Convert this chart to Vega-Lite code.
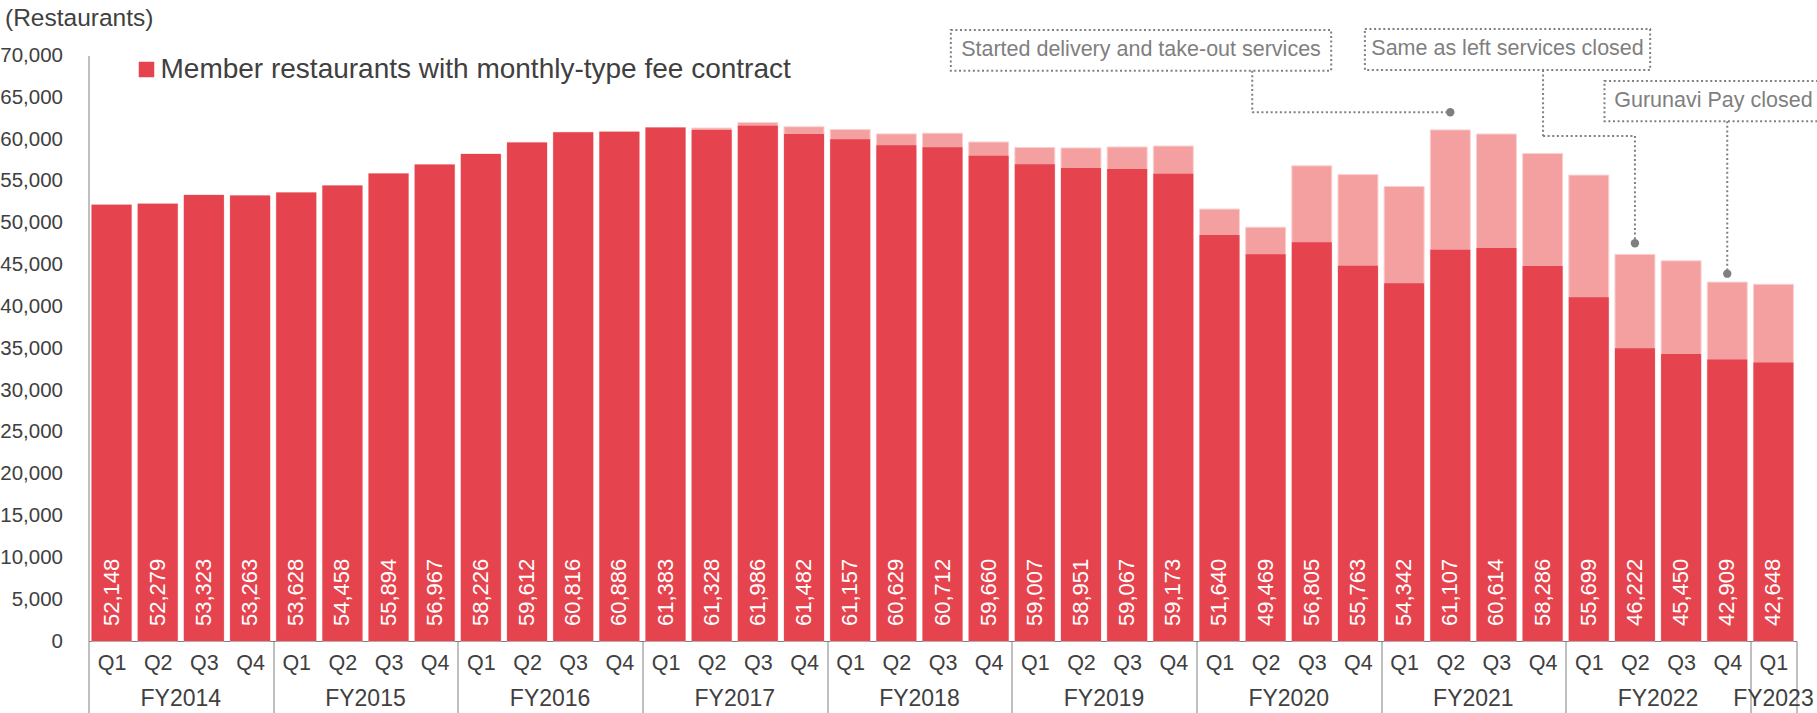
{
  "$schema": "https://vega.github.io/schema/vega-lite/v6.json",
  "width": 1708,
  "height": 585.5,
  "autosize": {"type": "none"},
  "padding": {"left": 88.5, "top": 55.5, "right": 20.5, "bottom": 72},
  "background": "white",
  "config": {"view": {"stroke": null}, "font": "Liberation Sans"},
  "datasets": {
    "main": [
      {"key": "FY2014 Q1", "total": 52148, "member": 52148},
      {"key": "FY2014 Q2", "total": 52279, "member": 52279},
      {"key": "FY2014 Q3", "total": 53323, "member": 53323},
      {"key": "FY2014 Q4", "total": 53263, "member": 53263},
      {"key": "FY2015 Q1", "total": 53628, "member": 53628},
      {"key": "FY2015 Q2", "total": 54458, "member": 54458},
      {"key": "FY2015 Q3", "total": 55894, "member": 55894},
      {"key": "FY2015 Q4", "total": 56967, "member": 56967},
      {"key": "FY2016 Q1", "total": 58226, "member": 58226},
      {"key": "FY2016 Q2", "total": 59612, "member": 59612},
      {"key": "FY2016 Q3", "total": 60816, "member": 60816},
      {"key": "FY2016 Q4", "total": 60886, "member": 60886},
      {"key": "FY2017 Q1", "total": 61383, "member": 61383},
      {"key": "FY2017 Q2", "total": 61328, "member": 61090},
      {"key": "FY2017 Q3", "total": 61986, "member": 61590},
      {"key": "FY2017 Q4", "total": 61482, "member": 60600},
      {"key": "FY2018 Q1", "total": 61157, "member": 60000},
      {"key": "FY2018 Q2", "total": 60629, "member": 59270},
      {"key": "FY2018 Q3", "total": 60712, "member": 59030},
      {"key": "FY2018 Q4", "total": 59660, "member": 58000},
      {"key": "FY2019 Q1", "total": 59007, "member": 57000},
      {"key": "FY2019 Q2", "total": 58951, "member": 56550},
      {"key": "FY2019 Q3", "total": 59067, "member": 56440},
      {"key": "FY2019 Q4", "total": 59173, "member": 55860},
      {"key": "FY2020 Q1", "total": 51640, "member": 48530},
      {"key": "FY2020 Q2", "total": 49469, "member": 46240},
      {"key": "FY2020 Q3", "total": 56805, "member": 47670},
      {"key": "FY2020 Q4", "total": 55763, "member": 44860},
      {"key": "FY2021 Q1", "total": 54342, "member": 42760},
      {"key": "FY2021 Q2", "total": 61107, "member": 46780},
      {"key": "FY2021 Q3", "total": 60614, "member": 47000},
      {"key": "FY2021 Q4", "total": 58286, "member": 44840},
      {"key": "FY2022 Q1", "total": 55699, "member": 41090},
      {"key": "FY2022 Q2", "total": 46222, "member": 35000},
      {"key": "FY2022 Q3", "total": 45450, "member": 34310},
      {"key": "FY2022 Q4", "total": 42909, "member": 33650},
      {"key": "FY2023 Q1", "total": 42648, "member": 33310}
    ],
    "fy": [
      {"fy": "FY2014", "key": "FY2014 Q2"},
      {"fy": "FY2015", "key": "FY2015 Q2"},
      {"fy": "FY2016", "key": "FY2016 Q2"},
      {"fy": "FY2017", "key": "FY2017 Q2"},
      {"fy": "FY2018", "key": "FY2018 Q2"},
      {"fy": "FY2019", "key": "FY2019 Q2"},
      {"fy": "FY2020", "key": "FY2020 Q2"},
      {"fy": "FY2021", "key": "FY2021 Q2"},
      {"fy": "FY2022", "key": "FY2022 Q2"}
    ],
    "fy_last": [
      {"fy": "FY2023", "key": "FY2023 Q1"}
    ],
    "boxes": [
      {"x": 18.68, "x2": 26.92, "y": 73050, "y2": 68190},
      {"x": 27.65, "x2": 33.83, "y": 73170, "y2": 68270},
      {"x": 32.84, "x2": 37.6, "y": 66950, "y2": 62140}
    ],
    "notes": [
      {"text": "Started delivery and take-out services", "x": 22.8, "y": 70620},
      {"text": "Same as left services closed", "x": 30.74, "y": 70720},
      {"text": "Gurunavi Pay closed", "x": 35.2, "y": 64545}
    ],
    "segments": [
      {"x": 25.21, "y": 68190, "x2": 25.21, "y2": 63211},
      {"x": 25.21, "y": 63211, "x2": 29.5, "y2": 63211},
      {"x": 31.51, "y": 68270, "x2": 31.51, "y2": 60378},
      {"x": 31.51, "y": 60378, "x2": 33.5, "y2": 60378},
      {"x": 33.5, "y": 60378, "x2": 33.5, "y2": 47550},
      {"x": 35.5, "y": 62140, "x2": 35.5, "y2": 43914}
    ],
    "dots": [
      {"x": 29.5, "y": 63211},
      {"x": 33.5, "y": 47550},
      {"x": 35.5, "y": 43914}
    ]
  },
  "resolve": {"scale": {"x": "independent"}, "axis": {"x": "independent", "y": "independent"}},
  "layer": [
    {
      "data": {"name": "main"},
      "mark": {"type": "bar", "color": "#F4A0A0", "width": {"band": 0.866}, "stroke": "#FAD0D0", "strokeWidth": 1},
      "encoding": {
        "x": {
          "field": "key", "type": "ordinal",
          "scale": {"type": "band", "paddingInner": 0, "paddingOuter": 0},
          "axis": {
            "title": null,
            "labelExpr": "datum.extra ? '' : slice(datum.value + '', -2)",
            "labelAngle": 0,
            "labelFont": "Liberation Sans",
            "labelFontSize": 21.5,
            "labelColor": "#404040",
            "labelBaseline": "middle",
            "labelPadding": -50,
            "labelOverlap": false,
            "tickBand": "extent",
            "tickSize": 72,
            "tickWidth": 1,
            "tickColor": "#808080",
            "tickOpacity": {"condition": {"test": "datum.extra || slice(datum.value + '', -2) === 'Q4' || datum.value === 'FY2023 Q1'", "value": 1}, "value": 0},
            "domainColor": "#808080",
            "domainWidth": 1
          }
        },
        "y": {
          "field": "total", "type": "quantitative",
          "scale": {"domain": [0, 70000], "nice": false},
          "axis": {
            "orient": "left",
            "title": "(Restaurants)",
            "titleAngle": 0,
            "titleAlign": "left",
            "titleBaseline": "middle",
            "titleX": -84,
            "titleY": -37,
            "titleFont": "Liberation Sans",
            "titleFontSize": 24.5,
            "titleFontWeight": "normal",
            "titleColor": "#404040",
            "values": [0, 5000, 10000, 15000, 20000, 25000, 30000, 35000, 40000, 45000, 50000, 55000, 60000, 65000, 70000],
            "format": ",.0f",
            "labelFont": "Liberation Sans",
            "labelFontSize": 20.5,
            "labelColor": "#404040",
            "labelPadding": 26,
            "ticks": false,
            "grid": false,
            "domainColor": "#808080",
            "domainWidth": 1
          }
        }
      }
    },
    {
      "data": {"name": "main"},
      "mark": {"type": "bar", "width": {"band": 0.866}},
      "encoding": {
        "x": {"field": "key", "type": "ordinal", "scale": {"type": "band", "paddingInner": 0, "paddingOuter": 0}, "axis": null},
        "y": {"field": "member", "type": "quantitative", "axis": null},
        "color": {
          "datum": "Member restaurants with monthly-type fee contract",
          "type": "nominal",
          "scale": {"range": ["#E5444F"]},
          "legend": {
            "orient": "none",
            "legendX": 44,
            "legendY": 0,
            "title": null,
            "padding": 0,
            "symbolType": "square",
            "symbolSize": 240,
            "symbolStrokeWidth": 0,
            "labelFont": "Liberation Sans",
            "labelFontSize": 28,
            "labelColor": "#404040",
            "labelLimit": 1000,
            "labelOffset": 0
          }
        }
      }
    },
    {
      "data": {"name": "main"},
      "mark": {"type": "text", "angle": 270, "align": "left", "baseline": "middle", "dx": 15, "color": "white", "font": "Liberation Sans", "fontSize": 22},
      "encoding": {
        "x": {"field": "key", "type": "ordinal", "scale": {"type": "band", "paddingInner": 0, "paddingOuter": 0}, "axis": null},
        "y": {"datum": 0, "type": "quantitative", "axis": null},
        "text": {"field": "total", "type": "quantitative", "format": ","}
      }
    },
    {
      "data": {"name": "fy"},
      "mark": {"type": "text", "align": "center", "baseline": "middle", "dy": 58, "color": "#404040", "font": "Liberation Sans", "fontSize": 23},
      "encoding": {
        "x": {
          "field": "key", "type": "ordinal", "bandPosition": 1, "axis": null,
          "scale": {"type": "band", "paddingInner": 0, "paddingOuter": 0,
            "domain": ["FY2014 Q1", "FY2014 Q2", "FY2014 Q3", "FY2014 Q4", "FY2015 Q1", "FY2015 Q2", "FY2015 Q3", "FY2015 Q4", "FY2016 Q1", "FY2016 Q2", "FY2016 Q3", "FY2016 Q4", "FY2017 Q1", "FY2017 Q2", "FY2017 Q3", "FY2017 Q4", "FY2018 Q1", "FY2018 Q2", "FY2018 Q3", "FY2018 Q4", "FY2019 Q1", "FY2019 Q2", "FY2019 Q3", "FY2019 Q4", "FY2020 Q1", "FY2020 Q2", "FY2020 Q3", "FY2020 Q4", "FY2021 Q1", "FY2021 Q2", "FY2021 Q3", "FY2021 Q4", "FY2022 Q1", "FY2022 Q2", "FY2022 Q3", "FY2022 Q4", "FY2023 Q1"]}
        },
        "y": {"datum": 0, "type": "quantitative", "axis": null},
        "text": {"field": "fy"}
      }
    },
    {
      "data": {"name": "fy_last"},
      "mark": {"type": "text", "align": "center", "baseline": "middle", "dy": 58, "color": "#404040", "font": "Liberation Sans", "fontSize": 23},
      "encoding": {
        "x": {
          "field": "key", "type": "ordinal", "bandPosition": 0.5, "axis": null,
          "scale": {"type": "band", "paddingInner": 0, "paddingOuter": 0,
            "domain": ["FY2014 Q1", "FY2014 Q2", "FY2014 Q3", "FY2014 Q4", "FY2015 Q1", "FY2015 Q2", "FY2015 Q3", "FY2015 Q4", "FY2016 Q1", "FY2016 Q2", "FY2016 Q3", "FY2016 Q4", "FY2017 Q1", "FY2017 Q2", "FY2017 Q3", "FY2017 Q4", "FY2018 Q1", "FY2018 Q2", "FY2018 Q3", "FY2018 Q4", "FY2019 Q1", "FY2019 Q2", "FY2019 Q3", "FY2019 Q4", "FY2020 Q1", "FY2020 Q2", "FY2020 Q3", "FY2020 Q4", "FY2021 Q1", "FY2021 Q2", "FY2021 Q3", "FY2021 Q4", "FY2022 Q1", "FY2022 Q2", "FY2022 Q3", "FY2022 Q4", "FY2023 Q1"]}
        },
        "y": {"datum": 0, "type": "quantitative", "axis": null},
        "text": {"field": "fy"}
      }
    },
    {
      "data": {"name": "boxes"},
      "mark": {"type": "rect", "fill": null, "filled": false, "stroke": "#808080", "strokeWidth": 2, "strokeDash": [2, 2.6]},
      "encoding": {
        "x": {"field": "x", "type": "quantitative", "scale": {"domain": [0, 37], "nice": false, "zero": false}, "axis": null},
        "x2": {"field": "x2"},
        "y": {"field": "y", "type": "quantitative", "axis": null},
        "y2": {"field": "y2"}
      }
    },
    {
      "data": {"name": "segments"},
      "mark": {"type": "rule", "color": "#808080", "strokeWidth": 2, "strokeDash": [2, 2.6]},
      "encoding": {
        "x": {"field": "x", "type": "quantitative", "scale": {"domain": [0, 37], "nice": false, "zero": false}, "axis": null},
        "x2": {"field": "x2"},
        "y": {"field": "y", "type": "quantitative", "axis": null},
        "y2": {"field": "y2"}
      }
    },
    {
      "data": {"name": "dots"},
      "mark": {"type": "point", "filled": true, "color": "#7F7F7F", "size": 70, "opacity": 1},
      "encoding": {
        "x": {"field": "x", "type": "quantitative", "scale": {"domain": [0, 37], "nice": false, "zero": false}, "axis": null},
        "y": {"field": "y", "type": "quantitative", "axis": null}
      }
    },
    {
      "data": {"name": "notes"},
      "mark": {"type": "text", "align": "center", "baseline": "middle", "color": "#7F7F7F", "font": "Liberation Sans", "fontSize": 21.5},
      "encoding": {
        "x": {"field": "x", "type": "quantitative", "scale": {"domain": [0, 37], "nice": false, "zero": false}, "axis": null},
        "y": {"field": "y", "type": "quantitative", "axis": null},
        "text": {"field": "text"}
      }
    }
  ]
}
